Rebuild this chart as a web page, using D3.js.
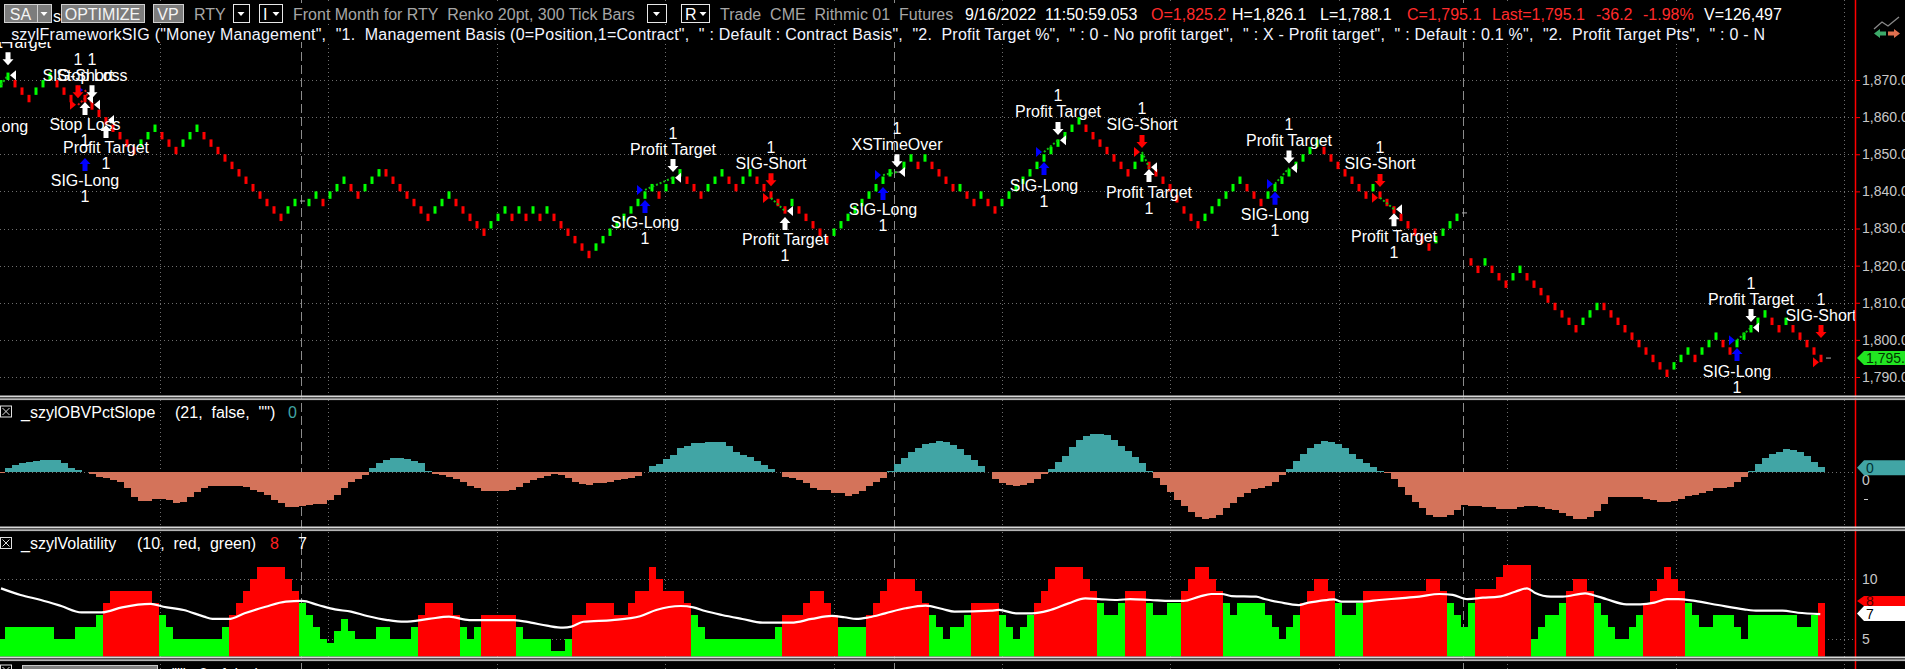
<!DOCTYPE html>
<html><head><meta charset="utf-8">
<script src="https://cdn.jsdelivr.net/npm/d3@7"></script>
<style>
html,body{margin:0;padding:0;background:#000;overflow:hidden;}
svg{display:block;}
text{font-family:"Liberation Sans",Arial,sans-serif;white-space:pre;}
</style></head><body>
<svg id="c" width="1905" height="669"></svg>
<script>
// ---------------- DATA ----------------
// Renko brick mid prices (2-pt bricks), one per bar; null = session-end tick
const brickMid = [
 1869,1871,1869,1867,1865,1867,1869,1871,1869,1867,
 1865,1867,1865,1863,1861,1859,1857,1855,1853,1851,
 1853,1855,1857,1855,1853,1851,1853,1855,1857,1855,
 1853,1851,1849,1847,1845,1843,1841,1839,1837,1835,
 1833,1835,1837,null,1837,1839,1837,1839,1841,1843,
 1841,1839,1841,1843,1845,1845,1843,1841,1839,1837,
 1835,1833,1835,1837,1839,1837,1835,1833,1831,1829,
 1831,1833,1835,1833,1835,1833,1835,1833,1835,1833,
 1831,1829,1827,1825,1823,1825,1827,1829,1831,1833,
 1835,1837,1839,1841,1839,1841,1843,1845,1843,1841,
 1839,1841,1843,1845,1843,1841,1843,1845,1843,1841,
 1839,1837,1835,1837,1835,1833,1831,1829,1827,1829,
 1831,1833,1835,1837,1839,1841,1843,1845,null,1847,
 1849,1847,1849,1847,1845,1843,1841,1841,1839,1837,
 1839,1837,1835,1837,1839,1841,1843,1845,1847,1849,
 1851,1853,1855,1857,1859,1857,1855,1853,1851,1849,
 1847,1845,1847,1849,1847,1845,1843,1841,1838,1835,
 1833,1831,1833,1835,1837,1839,1841,1843,1841,1839,
 1837,1839,1841,1843,1845,1847,1849,1851,1853,1851,
 1849,1847,1845,1843,1841,1839,1841,1839,1837,1835,
 1833,1831,1829,1827,1825,1827,1829,1831,1833,null,
 1821,1819,1821,1819,1817,1815,1817,1819,1817,1815,
 1813,1811,1809,1807,1805,1803,1805,1807,1809,1809,
 1807,1805,1803,1801,1799,1797,1795,1793,1791,1793,
 1795,1797,1795,1797,1799,1801,1799,1797,1799,1801,
 1803,1805,1807,1805,1803,1805,1803,1801,1799,1797,
 1795];
// Brick direction per bar: U = up (green), D = down (red), . = none
const brickDir = "UUDDDUUUDDDUDDDDDDDDUUUDDDUUUDDDDDDDDDDDDUU.UUDUUUDDUUUDDDDDDDUUUDDDDDUUUDUDUDUDDDDDDUUUUUUUUUDUUUDDDUUUDDUUDDDDDUDDDDDUUUUUUUUU.UUDUDDDDUDDUDDUUUUUUUUUUUUDDDDDDDUUDDDDDDDDUUUUUUDDDUUUUUUUUDDDDDDDUDDDDDDDDUUUU.DDUDDDUUDDDDDDDDUUUDDDDDDDDDDUUUDUUUDDUUUUUDDUDDDDD";
const dashBar = [43, 128, 209, 261];
const dashPrice = [1837.4, 1845.2, 1834.2, 1795.1];
const priceTicks = [1790, 1800, 1810, 1820, 1830, 1840, 1850, 1860, 1870];
const lastPrice = 1795.1;

// _szylOBVPctSlope values per bar
const obvVal = [
 -0.1,0.34,0.63,0.77,0.91,0.97,1.03,1.06,1.03,0.77,
 0.34,0.2,0,-0.14,-0.37,-0.46,-0.66,-0.8,-1.37,-2.09,
 -2.43,-2.43,-2.31,-2.31,-2.37,-2.6,-2.51,-2.09,-1.66,-1.31,
 -1.17,-1.14,-1.14,-1.14,-1.17,-1.29,-1.51,-1.69,-1.94,-2.37,
 -2.66,-2.94,-2.94,-2.89,-2.83,-2.74,-2.74,-2.37,-1.94,-1.37,
 -0.8,-0.6,-0.23,0.34,0.77,1.06,1.2,1.2,1.14,1.0,
 0.77,0.14,-0.14,-0.23,-0.37,-0.57,-0.8,-1.17,-1.37,-1.57,
 -1.57,-1.57,-1.57,-1.51,-1.29,-0.94,-0.66,-0.51,-0.31,-0.14,
 -0.23,-0.51,-0.8,-1.03,-1.09,-0.94,-0.89,-0.8,-0.66,-0.57,
 -0.46,-0.31,0.06,0.54,0.71,1.11,1.49,2.06,2.26,2.49,
 2.49,2.6,2.6,2.6,2.26,1.77,1.49,1.34,1.0,0.63,
 0.26,0,-0.37,-0.51,-0.66,-0.94,-1.37,-1.51,-1.51,-1.74,
 -1.8,-2.03,-1.86,-1.57,-1.17,-0.8,-0.46,0.14,0.71,1.2,
 1.71,2.06,2.43,2.54,2.69,2.6,2.34,1.97,1.49,1.06,
 0.54,0,-0.6,-0.94,-1.09,-1.17,-1.09,-0.94,-0.6,-0.14,
 0.29,0.86,1.4,2.2,2.77,3.11,3.29,3.29,3.2,2.77,
 2.26,1.83,1.34,0.77,0.11,-0.51,-1.09,-1.66,-2.37,-2.89,
 -3.37,-3.86,-4.03,-3.94,-3.66,-3.09,-2.6,-2.09,-1.8,-1.46,
 -1.34,-1.17,-0.8,-0.23,0.29,0.97,1.54,2.06,2.43,2.66,
 2.6,2.43,2.06,1.57,1.11,0.77,0.43,0.11,-0.09,-0.6,
 -1.29,-1.94,-2.51,-3.09,-3.66,-3.86,-3.86,-3.66,-3.23,-2.8,
 -2.86,-2.89,-2.94,-3.0,-3.17,-3.17,-3.17,-3.0,-2.89,-2.89,
 -3.0,-3.11,-3.23,-3.51,-3.74,-4.03,-4.03,-3.8,-3.29,-2.71,
 -2.09,-2.09,-2.09,-2.09,-2.09,-2.29,-2.37,-2.51,-2.51,-2.43,
 -2.31,-2.03,-1.94,-1.8,-1.57,-1.37,-1.31,-1.23,-0.8,-0.37,
 0.11,0.69,1.2,1.54,1.77,1.97,1.91,1.77,1.4,0.91,
 0.43];
const obvTicks = [0, -5];

// _szylVolatility values per bar
const volVal = [
 5,6,6,6,6,6,6,6,5,5,
 5,6,6,6,7,8,9,9,9,9,
 9,9,8,7,6,5,5,5,5,5,
 5,5,6,7,8,9,10,11,11,11,
 11,10,9,8,7,6,5,4.7,5.7,6.7,
 5.7,5,5,5,6,6,5,5,5,6,
 7,8,8,8,8,7,6,5,6,7,
 7,7,7,7,6,5,5,5,5,4,
 4,5,7,7,8,8,8,8,7,7,
 8,9,9,11,10,9,9,9,8,7,
 6,5,5,5,5,5,5,5,5,5,
 5,6,7,7,7,8,9,9,8,7,
 6,6,6,6,7,8,9,10,10,10,
 10,9,8,7,6,5,6,6,7,8,
 8,8,8,7,6,5,6,7,8,9,
 10,11,11,11,11,10,9,8,7,7,
 8,9,9,9,8,7,7,8,8,9,
 10,11,11,10,9,8,7,8,8,8,
 8,7,6,5,6,7,8,9,10,10,
 9,8,7,7,8,9,9,9,9,9,
 9,9,9,9,10,10,9,8,7,6,
 8,9.2,9.2,9.2,10.2,11.2,11.2,11.2,11.2,5,
 6,7,7,8,9,10,10,9,8,7,
 6,5,5,6,7,8,9,10,11,10,
 9,8,7,6,6,7,7,7,6,5,
 7,7,7,7,7,7,7,6,6,7,
 8];
// state runs (r = above average, g = below)
const volRunStart = [0,15,23,33,43,60,66,69,74,82,99,112,120,124,133,139,143,148,157,161,164,169,175,186,191,195,207,211,219,224,228,235,241,260];
const volRunState = ['g','r','g','r','g','r','g','r','g','r','g','r','g','r','g','r','g','r','g','r','g','r','g','r','g','r','g','r','g','r','g','r','g','r'];
const volTicks = [5, 10];
// average line (bar position, value)
const avgBar = [0,2.8,5.7,8.6,11.5,14.4,17.3,21.4,23.2,26.1,29,30.2,32.5,34.8,37.8,40.7,43,45.3,47.7,50,52.3,55.2,57.6,61.1,64,66.9,69.8,73.3,75.7,78,80.3,81.5,83.2,87.3,91.3,
 93.6,97.1,98.9,100.6,103,105.9,108.8,112.9,115.8,118.7,120.5,122.2,124,126.3,129.2,132.1,134.5,136.2,141.4,142.6,145,147.3,149.6,152.5,154.9,157.2,159.5,161.3,164.2,167.1,168.9,171.2,172.9,174.4,175.8,179.3,180.5,182.7,
 185.4,186.4,188.4,190.4,191.5,194.4,196.9,199.8,202.6,205.5,207.4,209.5,211.7,214,216.3,218,219.1,221.4,223.1,226.3,227.4,229.4,232.2,234.2,236.2,238,239.6,242,245.3,249,251,254.5,256.7,259.9];
const avgVal = [9.22,8.67,8.25,7.75,7.22,7.22,7.64,7.92,7.69,7.42,6.86,6.67,6.67,7.14,7.69,8.11,8.17,7.83,7.47,7.28,6.92,6.58,6.44,6.67,6.86,6.58,6.58,6.58,6.36,6.11,5.94,6.03,6.44,6.58,6.9,
 7.42,7.75,7.64,7.33,7.0,6.67,6.36,6.36,6.67,6.92,6.81,6.67,6.81,7.14,7.56,7.78,7.5,7.28,7.36,7.42,7.14,7.14,7.36,7.97,8.39,8.31,8.25,8.33,8.25,8.17,8.17,8.53,8.75,8.75,8.58,8.53,8.33,8.06,
 7.83,7.97,8.17,8.31,8.11,8.11,8.25,8.39,8.53,8.75,8.67,8.33,8.44,8.53,8.94,9.22,8.86,8.53,8.53,8.81,8.67,8.31,7.89,7.89,8.03,8.33,8.33,8.17,7.83,7.47,7.36,7.36,7.19,7.08];

// strategy annotations
const annBar   = [-1,1,11,13,12,15,12,92,96,110,112,126,128,149,151,163,164,182,184,197,199,248,250,260];
const annKind  = ['LE','LX','SE','LX','SX','SX','LE','LE','LX','SE','SX','LE','LX','LE','LX','SE','SX','LE','LX','SE','SX','LE','LX','SE'];
const annLabel = ['SIG-Long','Profit Target','SIG-Short','Stop Loss','Stop Loss','Profit Target','SIG-Long','SIG-Long','Profit Target','SIG-Short','Profit Target','SIG-Long','XSTimeOver','SIG-Long','Profit Target','SIG-Short','Profit Target','SIG-Long','Profit Target','SIG-Short','Profit Target','SIG-Long','Profit Target','SIG-Short'];
const annFill  = [1866,1871.3,1863.3,1863.3,1865,1859.2,1867.3,1840.4,1843.7,1838.2,1834.7,1844.4,1845.2,1850.6,1853.8,1850.6,1846.5,1842,1846.3,1838.3,1835.2,1799.9,1803.3,1794];
const annMark  = [1863.8,1874,1865.1,1865.1,1864.1,1857.9,1849.0,1837.7,1845.2,1841.4,1833.1,1841.2,1846.5,1847.9,1855.2,1851.7,1846.0,1839.9,1847.5,1841.2,1834.1,1797.8,1804.8,1800.5];
const tradeFrom = [0,2,6,7,9,11,13,15,17,19,21];
const tradeTo   = [1,4,3,8,10,12,14,16,18,20,22];
const tradeWin  = [1,0,0,1,1,1,1,1,1,1,1];

// header texts
const head1Text = ['RTY','Front Month for RTY  Renko 20pt, 300 Tick Bars','Trade  CME  Rithmic 01  Futures','9/16/2022  11:50:59.053','O=1,825.2','H=1,826.1','L=1,788.1','C=1,795.1','Last=1,795.1','-36.2','-1.98%','V=126,497'];
const head1Kind = ['dim','dim','dim','hi','dn','hi','hi','dn','dn','dn','dn','hi'];
const head2Text = '_szylFrameworkSIG ("Money Management",  "1.  Management Basis (0=Position,1=Contract",  " : Default : Contract Basis",  "2.  Profit Target %",  " : 0 - No profit target",  " : X - Profit target",  " : Default : 0.1 %",  "2.  Profit Target Pts",  " : 0 - N';

// ---------------- LAYOUT ----------------
const W = 1905, H = 669, AX = 1855;
const head1X = [194,293,720,965,1151,1232,1320,1407,1492,1596,1643,1704];
const colors = {up:'#00ff00', dn:'#ff0000', teal:'#41a5a5', salmon:'#d4735a', vr:'#ff0000', vg:'#00ff00',
  grid:'#6e6e6e', dim:'#a6a6a6', hi:'#ffffff', red:'#ff2b2b', blue:'#0000ff'};

const svg = d3.select('#c');
svg.append('rect').attr('width', W).attr('height', H).attr('fill', '#000');

const nBars = 261;
const x = d3.scaleLinear().domain([0, nBars]).range([1, 1828]);
const yP = d3.scaleLinear().domain([1790, 1870]).range([377, 80]);
const yO = d3.scaleLinear().domain([0, -5]).range([472.3, 530.65]);
const yV = d3.scaleLinear().domain([5, 10]).range([639, 579]);

const defs = svg.append('defs');
function clip(id, x0, y0, w, h) { defs.append('clipPath').attr('id', id).append('rect').attr('x', x0).attr('y', y0).attr('width', w).attr('height', h); }
clip('cp', 0, 0, AX, 395.5);
clip('cl', 0, 42, AX, 353.5);
clip('co', 0, 400, AX, 126.5);
clip('cv', 0, 531, AX, 125.5);
clip('cax', 0, 400, W, 126.5);

// ---- grid ----
const grid = svg.append('g');
grid.selectAll('line.h').data(priceTicks).join('line')
  .attr('x1', 0).attr('x2', AX).attr('y1', d => Math.round(yP(d)) + 0.5).attr('y2', d => Math.round(yP(d)) + 0.5)
  .attr('stroke', colors.grid).attr('stroke-dasharray', '1,3');
const vGridBars = d3.range(0, 11).map(k => 22.7 + 24.06 * k);
grid.selectAll('line.v').data(vGridBars).join('line')
  .attr('x1', d => Math.round(x(d)) + 0.5).attr('x2', d => Math.round(x(d)) + 0.5).attr('y1', 0).attr('y2', H)
  .attr('stroke', colors.grid).attr('stroke-dasharray', '1,3');
grid.append('line').attr('x1', 0).attr('x2', AX).attr('y1', 472.5).attr('y2', 472.5).attr('stroke', colors.grid).attr('stroke-dasharray', '1,3');
grid.selectAll('line.vt').data(volTicks).join('line')
  .attr('x1', 0).attr('x2', AX).attr('y1', d => Math.round(yV(d)) + 0.5).attr('y2', d => Math.round(yV(d)) + 0.5)
  .attr('stroke', colors.grid).attr('stroke-dasharray', '1,3');
const sessionBars = [42.9, 127.6, 208.9];
grid.selectAll('line.s').data(sessionBars).join('line')
  .attr('x1', d => Math.round(x(d)) + 0.5).attr('x2', d => Math.round(x(d)) + 0.5).attr('y1', 0).attr('y2', H)
  .attr('stroke', '#8c8c8c').attr('stroke-dasharray', '9,4');

// ---- bricks ----
const gp = svg.append('g').attr('clip-path', 'url(#cp)');
const brickIdx = d3.range(brickMid.length).filter(i => brickMid[i] != null);
gp.selectAll('rect.b').data(brickIdx).join('rect')
  .attr('x', i => x(i) - 1.5).attr('width', 3)
  .attr('y', i => yP(brickMid[i] + 1)).attr('height', i => yP(brickMid[i] - 1) - yP(brickMid[i] + 1))
  .attr('fill', i => brickDir[i] === 'U' ? colors.up : colors.dn);
gp.selectAll('line.d').data(dashBar).join('line')
  .attr('x1', (d) => x(d) - 2).attr('x2', d => x(d) + 3)
  .attr('y1', (d, k) => yP(dashPrice[k])).attr('y2', (d, k) => yP(dashPrice[k]))
  .attr('stroke', '#b0b0b0').attr('stroke-width', 1);

// trade lines
gp.selectAll('line.t').data(tradeFrom).join('line')
  .attr('x1', a => x(annBar[a])).attr('y1', a => yP(annFill[a]))
  .attr('x2', (a, k) => x(annBar[tradeTo[k]])).attr('y2', (a, k) => yP(annFill[tradeTo[k]]))
  .attr('stroke', (a, k) => tradeWin[k] ? '#10c010' : '#e01010').attr('stroke-width', 2).attr('stroke-dasharray', '2,2');

// markers
function arrow(cx, tip, up) {
  const s = up ? 1 : -1;
  return `M${cx},${tip} L${cx + 5.5},${tip + 6 * s} L${cx + 2.5},${tip + 6 * s} L${cx + 2.5},${tip + 13 * s} L${cx - 2.5},${tip + 13 * s} L${cx - 2.5},${tip + 6 * s} L${cx - 5.5},${tip + 6 * s} Z`;
}
const annIdx = d3.range(annBar.length);
const isBelow = k => annKind[k] === 'LE' || annKind[k] === 'SX';
const markColor = k => annKind[k] === 'LE' ? colors.blue : annKind[k] === 'SE' ? '#ff0000' : '#ffffff';
gp.selectAll('path.tri').data(annIdx).join('path')
  .attr('d', k => {
    const cx = x(annBar[k]), cy = yP(annFill[k]);
    const entry = annKind[k] === 'LE' || annKind[k] === 'SE';
    return entry ? `M${cx - 8},${cy - 5} L${cx - 2},${cy} L${cx - 8},${cy + 5} Z` : `M${cx + 8},${cy - 5} L${cx + 2},${cy} L${cx + 8},${cy + 5} Z`;
  })
  .attr('fill', markColor);
gp.selectAll('path.arr').data(annIdx).join('path')
  .attr('d', k => arrow(x(annBar[k]), yP(annMark[k]), isBelow(k)))
  .attr('fill', markColor);

// labels
const gl = svg.append('g').attr('clip-path', 'url(#cl)').attr('fill', '#fff').attr('font-size', 16).attr('text-anchor', 'middle');
gl.selectAll('text.l').data(annIdx).join('text')
  .attr('x', k => x(annBar[k]))
  .attr('y', k => isBelow(k) ? yP(annMark[k]) + 28.5 : yP(annMark[k]) - 17.5)
  .text(k => annLabel[k]);
gl.selectAll('text.n').data(annIdx).join('text')
  .attr('x', k => x(annBar[k]))
  .attr('y', k => isBelow(k) ? yP(annMark[k]) + 44.5 : yP(annMark[k]) - 33.5)
  .text('1');

// ---- OBV panel ----
const go = svg.append('g').attr('clip-path', 'url(#co)').attr('shape-rendering', 'crispEdges');
go.selectAll('rect').data(d3.range(obvVal.length).filter(i => obvVal[i] !== 0)).join('rect')
  .attr('x', i => x(i) - 3.5).attr('width', 7)
  .attr('y', i => Math.min(yO(0), yO(obvVal[i]))).attr('height', i => Math.abs(yO(obvVal[i]) - yO(0)))
  .attr('fill', i => obvVal[i] > 0 ? colors.teal : colors.salmon);

// ---- Volatility panel ----
const volState = d3.range(volVal.length).map(i => volRunState[d3.bisectRight(volRunStart, i) - 1]);
const gv = svg.append('g').attr('clip-path', 'url(#cv)');
gv.append('g').attr('shape-rendering', 'crispEdges').selectAll('rect').data(d3.range(volVal.length)).join('rect')
  .attr('x', i => x(i) - 3.5).attr('width', 7)
  .attr('y', i => yV(volVal[i])).attr('height', i => 657 - yV(volVal[i]))
  .attr('fill', i => volState[i] === 'r' ? colors.vr : colors.vg);
gv.append('path').datum(d3.zip(avgBar, avgVal))
  .attr('d', d3.line().x(d => x(d[0])).y(d => yV(d[1])).curve(d3.curveMonotoneX))
  .attr('fill', 'none').attr('stroke', '#fff').attr('stroke-width', 2.2);

// ---- right axes ----
svg.append('line').attr('x1', AX + 0.5).attr('x2', AX + 0.5).attr('y1', 0).attr('y2', H).attr('stroke', '#ff0000').attr('stroke-width', 1.5);
const pa = svg.append('g').attr('transform', `translate(${AX},0)`)
  .call(d3.axisRight(yP).tickValues(priceTicks).tickFormat(d3.format(',.1f')).tickSize(5).tickPadding(2));
pa.select('.domain').remove();
pa.selectAll('.tick line').attr('stroke', '#ff0000');
pa.selectAll('.tick text').attr('fill', '#c8c8c8').attr('font-size', 14).attr('font-family', '"Liberation Sans",Arial,sans-serif');

const oa = svg.append('g').attr('transform', `translate(${AX},0)`).attr('clip-path', 'url(#cax)')
  .call(d3.axisRight(yO).tickValues(obvTicks).tickFormat(d3.format('d')).tickSize(0).tickPadding(7));
oa.select('.domain').remove();
oa.selectAll('.tick text').attr('fill', '#c8c8c8').attr('font-size', 14).attr('font-family', '"Liberation Sans",Arial,sans-serif').attr('dy', '0.9em');
svg.append('line').attr('x1', 1864).attr('x2', 1868).attr('y1', 499.5).attr('y2', 499.5).attr('stroke', '#c8c8c8');
const va = svg.append('g').attr('transform', `translate(${AX},0)`)
  .call(d3.axisRight(yV).tickValues(volTicks).tickFormat(d3.format('d')).tickSize(0).tickPadding(7));
va.select('.domain').remove();
va.selectAll('.tick text').attr('fill', '#c8c8c8').attr('font-size', 14).attr('font-family', '"Liberation Sans",Arial,sans-serif');

function tag(yc, h, fill, txt, tc) {
  const t = yc - h / 2, b = yc + h / 2;
  svg.append('path').attr('d', `M1857,${yc} L1864,${t} L${W},${t} L${W},${b} L1864,${b} Z`).attr('fill', fill);
  svg.append('text').attr('x', 1866).attr('y', yc + 5).attr('font-size', 14).attr('fill', tc).text(txt);
}
tag(yP(lastPrice), 14, '#22e622', d3.format(',.1f')(lastPrice), '#003300');
tag(yO(0) - 4.5, 15, colors.teal, '0', '#003333');
tag(yV(volVal[volVal.length - 1]) - 2, 10, '#ff0000', d3.format('d')(volVal[volVal.length - 1]), '#500000');
tag(yV(avgVal[avgVal.length - 1]) - 0.5, 15, '#ffffff', '7', '#000000');

// ---- separators ----
[395.5, 526.5, 656.5].forEach(y0 => {
  svg.append('rect').attr('x', 0).attr('y', y0).attr('width', W).attr('height', 1.8).attr('fill', '#d8d8d8');
  svg.append('rect').attr('x', 0).attr('y', y0 + 1.8).attr('width', W).attr('height', 1).attr('fill', '#555');
  svg.append('rect').attr('x', 0).attr('y', y0 + 2.8).attr('width', W).attr('height', 1.8).attr('fill', '#b4b4b4');
});

// ---- header row 1 ----
const hd = svg.append('g').attr('font-size', 16);
function button(x0, x1, label) {
  hd.append('rect').attr('x', x0 + 0.5).attr('y', 4.5).attr('width', x1 - x0).attr('height', 18).attr('fill', '#7c7c7c').attr('stroke', '#cfcfcf');
  if (label) hd.append('text').attr('x', (x0 + x1) / 2).attr('y', 20).attr('text-anchor', 'middle').attr('fill', '#f4f4f4').text(label);
}
function drop(x0, x1, label) {
  hd.append('rect').attr('x', x0 + 0.5).attr('y', 4.5).attr('width', x1 - x0).attr('height', 18).attr('fill', '#000').attr('stroke', '#e8e8e8');
  let cx = (x0 + x1) / 2;
  if (label) { hd.append('text').attr('x', x0 + 4).attr('y', 20).attr('fill', '#fff').text(label); cx = x1 - 6; }
  hd.append('path').attr('d', `M${cx - 3.5},12 L${cx + 3.5},12 L${cx},16 Z`).attr('fill', '#fff');
}
hd.append('text').attr('x', 53).attr('y', 22).attr('fill', '#fff').text('s');
button(4, 37, 'SA');
button(37, 51, null);
hd.append('path').attr('d', 'M40.5,12 L47.5,12 L44,16 Z').attr('fill', '#fff');
button(61, 144, 'OPTIMIZE');
button(153, 183, 'VP');
drop(233, 249, null);
drop(259, 282, 'I');
drop(647, 666, null);
drop(681, 709, 'R');
head1Text.forEach((t, k) => {
  const c = head1Kind[k] === 'dim' ? colors.dim : head1Kind[k] === 'dn' ? colors.red : colors.hi;
  const tx = hd.append('text').attr('x', head1X[k]).attr('y', 20).attr('fill', c).text(t);
  const bb = tx.node().getBBox();
  hd.insert('rect', () => tx.node()).attr('x', bb.x - 1).attr('y', 3).attr('width', bb.width + 2).attr('height', 21).attr('fill', '#000');
});
// ---- header row 2 ----
const t2 = hd.append('text').attr('x', 2).attr('y', 39.5).attr('fill', '#f2f4ff')
  .attr('textLength', 1763).attr('lengthAdjust', 'spacing').text(head2Text);
hd.insert('rect', () => t2.node()).attr('x', 0).attr('y', 25).attr('width', 1768).attr('height', 17).attr('fill', '#000');

// top-right icon
svg.append('path').attr('d', 'M1874,29 L1882,22 L1888,26 L1899,17').attr('fill', 'none').attr('stroke', '#8a8a8a').attr('stroke-width', 1.3);
svg.append('path').attr('d', 'M1874,33.5 L1880,29 L1880,31.5 L1886,31.5 L1886,35.5 L1880,35.5 L1880,38 Z').attr('fill', '#3daa6a');
svg.append('path').attr('d', 'M1900,33.5 L1894,29 L1894,31.5 L1888,31.5 L1888,35.5 L1894,35.5 L1894,38 Z').attr('fill', '#e0704f');

// ---- panel headers ----
function checkbox(y0) {
  svg.append('rect').attr('x', 0.5).attr('y', y0 + 0.5).attr('width', 11).attr('height', 11).attr('fill', 'none').attr('stroke', '#e0e0e0');
  svg.append('path').attr('d', `M2.5,${y0 + 2.5} L9.5,${y0 + 9.5} M9.5,${y0 + 2.5} L2.5,${y0 + 9.5}`).attr('stroke', '#e0e0e0');
}
checkbox(405.5);
const ph = svg.append('g').attr('font-size', 16);
ph.append('text').attr('x', 21).attr('y', 418).attr('fill', '#fff').text('_szylOBVPctSlope');
ph.append('text').attr('x', 175).attr('y', 418).attr('fill', '#fff').text('(21,  false,  "")');
ph.append('text').attr('x', 288).attr('y', 418).attr('fill', colors.teal).text('0');
checkbox(537);
ph.append('text').attr('x', 21).attr('y', 549).attr('fill', '#fff').text('_szylVolatility');
ph.append('text').attr('x', 137).attr('y', 549).attr('fill', '#fff').text('(10,  red,  green)');
ph.append('text').attr('x', 270).attr('y', 549).attr('fill', '#ff2020').text('8');
ph.append('text').attr('x', 298).attr('y', 549).attr('fill', '#fff').text('7');
// bottom panel (mostly cut)
checkbox(664.5);
svg.append('rect').attr('x', 22.5).attr('y', 665.5).attr('width', 135).attr('height', 18).attr('fill', '#808080').attr('stroke', '#c8c8c8');
ph.append('text').attr('x', 169).attr('y', 680).attr('fill', '#fff').text('("",  0,  false)');
</script>
</body></html>
